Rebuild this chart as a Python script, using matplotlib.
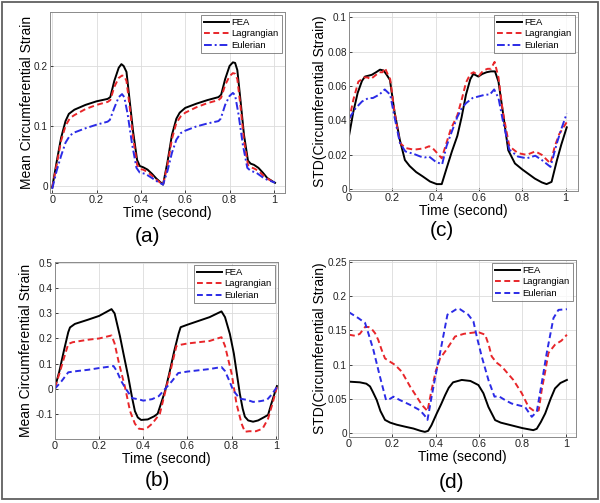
import matplotlib
matplotlib.use('Agg')
import matplotlib.pyplot as plt
from matplotlib.patches import Rectangle

plt.rcParams['font.family'] = ['Liberation Sans', 'DejaVu Sans']

# ---- data ----
# (a) mean circumferential strain
ta_fea = [0, 0.02, 0.04, 0.06, 0.075, 0.1, 0.15, 0.2, 0.25, 0.262, 0.28, 0.30, 0.312, 0.322, 0.335, 0.35, 0.365, 0.383, 0.395, 0.41, 0.43, 0.45, 0.47, 0.5,
          0.52, 0.54, 0.56, 0.575, 0.6, 0.65, 0.7, 0.75, 0.762, 0.78, 0.80, 0.815, 0.825, 0.835, 0.85, 0.865, 0.883, 0.895, 0.91, 0.93, 0.95, 0.97, 1.0, 1.005]
a_fea = [-0.003, 0.04, 0.08, 0.108, 0.12, 0.127, 0.135, 0.141, 0.145, 0.148, 0.175, 0.197, 0.203, 0.2, 0.19, 0.14, 0.09, 0.043, 0.033, 0.031, 0.027, 0.02, 0.012, 0.002,
         0.04, 0.085, 0.112, 0.122, 0.13, 0.137, 0.143, 0.148, 0.152, 0.178, 0.2, 0.206, 0.205, 0.193, 0.14, 0.085, 0.042, 0.037, 0.035, 0.03, 0.022, 0.013, 0.006, 0.005]
ta_lag = [0, 0.02, 0.04, 0.06, 0.08, 0.1, 0.15, 0.2, 0.25, 0.262, 0.28, 0.30, 0.315, 0.325, 0.335, 0.35, 0.365, 0.383, 0.395, 0.41, 0.43, 0.45, 0.47, 0.5,
          0.52, 0.54, 0.56, 0.58, 0.6, 0.65, 0.7, 0.75, 0.762, 0.78, 0.80, 0.815, 0.825, 0.835, 0.85, 0.865, 0.883, 0.895, 0.91, 0.93, 0.95, 0.97, 1.0, 1.005]
a_lag = [-0.003, 0.035, 0.075, 0.1, 0.113, 0.118, 0.128, 0.135, 0.14, 0.143, 0.165, 0.18, 0.184, 0.183, 0.175, 0.13, 0.08, 0.035, 0.028, 0.027, 0.023, 0.017, 0.01, 0.002,
         0.035, 0.078, 0.105, 0.116, 0.122, 0.131, 0.138, 0.143, 0.147, 0.168, 0.183, 0.188, 0.187, 0.178, 0.13, 0.075, 0.035, 0.031, 0.029, 0.025, 0.018, 0.012, 0.006, 0.005]
ta_eul = [0, 0.02, 0.04, 0.06, 0.08, 0.1, 0.15, 0.2, 0.25, 0.26, 0.28, 0.30, 0.315, 0.325, 0.34, 0.36, 0.38, 0.395, 0.42, 0.45, 0.47, 0.5,
          0.52, 0.54, 0.56, 0.58, 0.6, 0.65, 0.7, 0.75, 0.76, 0.78, 0.80, 0.815, 0.825, 0.84, 0.86, 0.88, 0.895, 0.92, 0.95, 0.97, 1.0, 1.005]
a_eul = [-0.005, 0.025, 0.05, 0.072, 0.084, 0.089, 0.096, 0.102, 0.107, 0.11, 0.13, 0.148, 0.153, 0.148, 0.12, 0.07, 0.03, 0.022, 0.02, 0.013, 0.008, 0.002,
         0.025, 0.055, 0.077, 0.088, 0.092, 0.099, 0.104, 0.108, 0.112, 0.135, 0.15, 0.155, 0.151, 0.12, 0.068, 0.03, 0.025, 0.022, 0.014, 0.01, 0.006, 0.005]

# (c) STD of circumferential strain
tc_fea = [0, 0.02, 0.04, 0.06, 0.074, 0.09, 0.105, 0.125, 0.143, 0.16, 0.174, 0.189, 0.21, 0.235, 0.258, 0.28, 0.31, 0.34, 0.374, 0.405, 0.428,
          0.45, 0.475, 0.5, 0.52, 0.54, 0.56, 0.574, 0.597, 0.615, 0.635, 0.655, 0.674, 0.69, 0.71, 0.735, 0.766, 0.8, 0.858, 0.89, 0.912, 0.935, 0.96, 0.98, 1.005]
c_fea = [0.031, 0.045, 0.056, 0.063, 0.0655, 0.066, 0.0665, 0.068, 0.0695, 0.069, 0.0665, 0.0635, 0.045, 0.0285, 0.017, 0.0135, 0.010, 0.0075, 0.0045, 0.003, 0.003,
         0.012, 0.022, 0.031, 0.042, 0.055, 0.064, 0.067, 0.0655, 0.067, 0.068, 0.0685, 0.0685, 0.0625, 0.045, 0.0227, 0.015, 0.0115, 0.0062, 0.004, 0.003, 0.0043, 0.017, 0.026, 0.036]
tc_lag = [0, 0.02, 0.043, 0.07, 0.085, 0.1, 0.12, 0.14, 0.155, 0.166, 0.178, 0.19, 0.21, 0.235, 0.26, 0.3, 0.33, 0.35, 0.37, 0.385, 0.4, 0.428,
          0.45, 0.47, 0.5, 0.52, 0.54, 0.56, 0.575, 0.6, 0.62, 0.64, 0.655, 0.672, 0.69, 0.71, 0.74, 0.78, 0.82, 0.86, 0.89, 0.93, 0.95, 0.97, 1.005]
c_lag = [0.04, 0.052, 0.0625, 0.065, 0.065, 0.064, 0.066, 0.068, 0.068, 0.0705, 0.067, 0.064, 0.045, 0.027, 0.024, 0.023, 0.0235, 0.024, 0.025, 0.024, 0.022, 0.018,
         0.027, 0.035, 0.043, 0.052, 0.062, 0.067, 0.068, 0.066, 0.069, 0.07, 0.07, 0.074, 0.065, 0.045, 0.025, 0.021, 0.02, 0.022, 0.02, 0.015, 0.025, 0.032, 0.039]
tc_eul = [0, 0.03, 0.06, 0.09, 0.11, 0.14, 0.165, 0.19, 0.21, 0.235, 0.26, 0.3, 0.33, 0.35, 0.37, 0.4, 0.43, 0.45, 0.47, 0.5,
          0.52, 0.54, 0.57, 0.6, 0.63, 0.65, 0.67, 0.69, 0.71, 0.74, 0.78, 0.82, 0.86, 0.89, 0.93, 0.96, 0.98, 1.005]
c_eul = [0.041, 0.047, 0.051, 0.053, 0.053, 0.055, 0.058, 0.055, 0.042, 0.027, 0.022, 0.0205, 0.019, 0.0185, 0.019, 0.016, 0.0145, 0.025, 0.032, 0.042,
         0.047, 0.05, 0.053, 0.054, 0.055, 0.055, 0.058, 0.053, 0.04, 0.023, 0.019, 0.018, 0.0195, 0.017, 0.013, 0.027, 0.035, 0.044]

# (b) mean circumferential strain
tb_fea = [0, 0.02, 0.04, 0.06, 0.068, 0.09, 0.15, 0.2, 0.256, 0.27, 0.294, 0.31, 0.332, 0.35, 0.362, 0.375, 0.39, 0.42, 0.45, 0.465, 0.48, 0.5,
          0.52, 0.54, 0.56, 0.569, 0.6, 0.65, 0.7, 0.754, 0.77, 0.792, 0.81, 0.837, 0.85, 0.86, 0.875, 0.897, 0.92, 0.945, 0.965, 0.98, 1.005]
b_fea = [0.005, 0.07, 0.15, 0.225, 0.244, 0.258, 0.275, 0.29, 0.317, 0.3, 0.21, 0.14, 0.046, -0.04, -0.09, -0.115, -0.125, -0.123, -0.11, -0.1, -0.06, -0.005,
         0.07, 0.15, 0.22, 0.245, 0.255, 0.27, 0.285, 0.308, 0.285, 0.218, 0.14, -0.02, -0.08, -0.112, -0.127, -0.132, -0.127, -0.115, -0.105, -0.06, 0.01]
tb_lag = [0, 0.02, 0.04, 0.06, 0.08, 0.15, 0.2, 0.256, 0.27, 0.29, 0.317, 0.34, 0.362, 0.38, 0.4, 0.42, 0.44, 0.475, 0.5,
          0.52, 0.55, 0.57, 0.6, 0.65, 0.7, 0.754, 0.77, 0.8, 0.822, 0.845, 0.86, 0.88, 0.91, 0.94, 0.965, 0.985, 1.005]
b_lag = [0.005, 0.06, 0.12, 0.178, 0.185, 0.195, 0.2, 0.212, 0.18, 0.1, 0.006, -0.09, -0.14, -0.16, -0.162, -0.155, -0.14, -0.1, -0.01,
         0.06, 0.17, 0.175, 0.18, 0.185, 0.19, 0.205, 0.17, 0.06, -0.06, -0.14, -0.172, -0.17, -0.17, -0.16, -0.12, -0.06, 0.006]
tb_eul = [0, 0.03, 0.06, 0.1, 0.15, 0.2, 0.25, 0.265, 0.28, 0.3, 0.32, 0.35, 0.38, 0.4, 0.44, 0.47, 0.5,
          0.53, 0.558, 0.6, 0.65, 0.7, 0.754, 0.77, 0.79, 0.807, 0.837, 0.87, 0.897, 0.93, 0.96, 0.98, 1.005]
b_eul = [0.0, 0.03, 0.065, 0.07, 0.075, 0.082, 0.088, 0.09, 0.07, 0.03, 0.0, -0.038, -0.043, -0.048, -0.042, -0.03, 0.0,
         0.03, 0.062, 0.068, 0.073, 0.078, 0.086, 0.07, 0.03, -0.007, -0.04, -0.045, -0.053, -0.05, -0.045, -0.025, 0.006]

# (d) STD of circumferential strain
td_fea = [0, 0.05, 0.08, 0.097, 0.11, 0.128, 0.145, 0.166, 0.19, 0.22, 0.26, 0.297, 0.33, 0.35, 0.365, 0.38, 0.404, 0.425, 0.443, 0.46, 0.48,
          0.52, 0.56, 0.597, 0.62, 0.643, 0.674, 0.7, 0.75, 0.8, 0.85, 0.866, 0.885, 0.905, 0.93, 0.95, 0.975, 1.005]
d_fea = [0.075, 0.074, 0.072, 0.068, 0.06, 0.048, 0.032, 0.019, 0.015, 0.012, 0.009, 0.0064, 0.003, 0.0015, 0.003, 0.011, 0.028, 0.042, 0.055, 0.066, 0.074,
         0.0775, 0.076, 0.07, 0.058, 0.038, 0.0187, 0.015, 0.011, 0.007, 0.004, 0.006, 0.016, 0.0285, 0.05, 0.065, 0.073, 0.0775]
td_lag = [0, 0.03, 0.05, 0.074, 0.09, 0.105, 0.12, 0.135, 0.15, 0.166, 0.19, 0.212, 0.243, 0.282, 0.31, 0.336, 0.362, 0.381, 0.4, 0.42, 0.45, 0.489,
          0.53, 0.58, 0.6, 0.628, 0.645, 0.658, 0.68, 0.705, 0.758, 0.797, 0.828, 0.858, 0.875, 0.889, 0.905, 0.92, 0.95, 0.98, 1.005]
d_lag = [0.1437, 0.142, 0.145, 0.155, 0.155, 0.152, 0.146, 0.136, 0.122, 0.109, 0.104, 0.0996, 0.0897, 0.0677, 0.054, 0.041, 0.032, 0.063, 0.09, 0.109, 0.122, 0.141,
         0.145, 0.147, 0.147, 0.1437, 0.128, 0.112, 0.103, 0.097, 0.0775, 0.058, 0.038, 0.031, 0.033, 0.063, 0.09, 0.117, 0.129, 0.135, 0.1437]
td_eul = [0, 0.043, 0.074, 0.09, 0.112, 0.143, 0.171, 0.19, 0.205, 0.235, 0.282, 0.328, 0.35, 0.362, 0.381, 0.4, 0.42, 0.454, 0.48,
          0.5, 0.512, 0.55, 0.574, 0.59, 0.612, 0.643, 0.671, 0.689, 0.72, 0.75, 0.812, 0.843, 0.866, 0.89, 0.912, 0.943, 0.966, 1.005]
d_eul = [0.1765, 0.168, 0.161, 0.145, 0.122, 0.082, 0.048, 0.05, 0.053, 0.048, 0.041, 0.033, 0.025, 0.019, 0.053, 0.085, 0.117, 0.173, 0.178,
         0.182, 0.181, 0.173, 0.163, 0.14, 0.112, 0.0775, 0.053, 0.054, 0.048, 0.043, 0.038, 0.0235, 0.031, 0.075, 0.117, 0.168, 0.18, 0.181]

series_names = ['FEA', 'Lagrangian', 'Eulerian']
x_ticks = [0, 0.2, 0.4, 0.6, 0.8, 1]

red = '#e8262a'
blue = '#2b2be6'

fig = plt.figure(figsize=(6, 5.03), dpi=100)

# outer frame
fig.patches.append(Rectangle((2 / 600, 4 / 503), 596 / 600, 497 / 503, transform=fig.transFigure,
                             fill=False, edgecolor='#606060', linewidth=1.3))


def fmt(v):
    return '%g' % round(v, 4)


def make_panel(rect, t_list, y_list, eul_style, xlim, ylim, yticks, ylabel, ylabel_x, tag, tag_xy):
    ax = fig.add_axes(rect)
    styles = [dict(color='black', linestyle='-', lw=1.4),
              dict(color=red, linestyle=(0, (3, 1.8)), lw=1.4),
              dict(color=blue, linestyle=eul_style, lw=1.4)]
    for t, y, st, name in zip(t_list, y_list, styles, series_names):
        ax.plot(t, y, label=name, **st)
    ax.set_xlim(*xlim)
    ax.set_ylim(*ylim)
    ax.set_xticks(x_ticks)
    ax.set_xticklabels([fmt(v) for v in x_ticks])
    ax.set_yticks(yticks)
    ax.set_yticklabels([fmt(v) for v in yticks])
    ax.grid(True, color='#dcdcdc', linewidth=0.6)
    ax.tick_params(direction='in', length=2.5, width=0.6, labelsize=7.2, colors='#222222', pad=1.5)
    ax.tick_params(axis='x', labelsize=7.8)
    for sp in ax.spines.values():
        sp.set_color('#8a8a8a')
        sp.set_linewidth(0.7)
    ax.set_xlabel('Time (second)', fontsize=10, labelpad=1)
    ax.set_ylabel(ylabel, fontsize=10)
    ax.yaxis.set_label_coords(ylabel_x, 0.5)
    leg = ax.legend(loc='upper right', fontsize=6.8, frameon=True, fancybox=False,
                    borderaxespad=0.3, handlelength=2.6, handletextpad=0.3,
                    labelspacing=0.25, borderpad=0.35)
    leg.get_frame().set_edgecolor('#555555')
    leg.get_frame().set_linewidth(0.6)
    fig.text(tag_xy[0] / 600, 1 - tag_xy[1] / 503, tag, fontsize=15, ha='center', va='center')
    return ax


make_panel([50 / 600, 1 - 193 / 503, 235 / 600, 181 / 503],
           [ta_fea, ta_lag, ta_eul], [a_fea, a_lag, a_eul], (0, (4, 1.5, 1, 1.5)),
           (-0.01, 1.05), (-0.012, 0.29), [0, 0.1, 0.2],
           'Mean Circumferential Strain', -0.07, '(a)', (147, 237))

make_panel([349 / 600, 1 - 191 / 503, 229 / 600, 179 / 503],
           [tc_fea, tc_lag, tc_eul], [c_fea, c_lag, c_eul], (0, (4, 1.5, 1, 1.5)),
           (0, 1.057), (-0.001, 0.103), [0, 0.02, 0.04, 0.06, 0.08, 0.1],
           'STD(Circumferential Strain)', -0.096, '(c)', (442, 230))

make_panel([55 / 600, 1 - 439 / 503, 223 / 600, 177 / 503],
           [tb_fea, tb_lag, tb_eul], [b_fea, b_lag, b_eul], (0, (3, 1.8)),
           (0, 1.01), (-0.201, 0.505), [-0.1, 0, 0.1, 0.2, 0.3, 0.4, 0.5],
           'Mean Circumferential Strain', -0.099, '(b)', (157, 480))

make_panel([349 / 600, 1 - 437 / 503, 227 / 600, 177 / 503],
           [td_fea, td_lag, td_eul], [d_fea, d_lag, d_eul], (0, (3, 1.8)),
           (0, 1.047), (-0.006, 0.253), [0, 0.05, 0.1, 0.15, 0.2, 0.25],
           'STD(Circumferential Strain)', -0.097, '(d)', (452, 483))

fig.savefig('out.png', dpi=100)
